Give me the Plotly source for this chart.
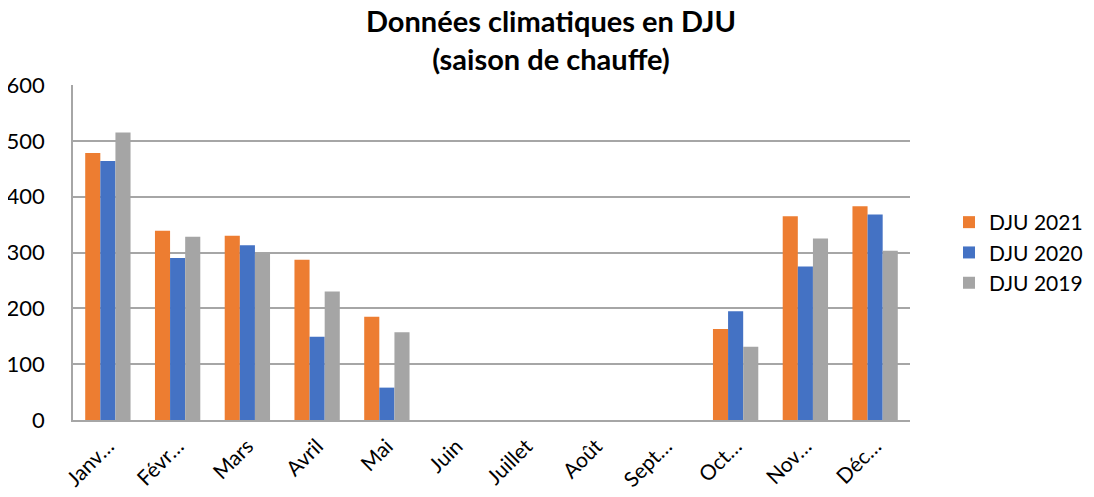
import plotly.graph_objects as go

months = ["Janv…", "Févr…", "Mars", "Avril", "Mai", "Juin", "Juillet", "Août", "Sept…", "Oct…", "Nov…", "Déc…"]
dju_2021 = [478, 339, 330, 287, 185, None, None, None, None, 163, 365, 383]
dju_2020 = [464, 290, 313, 149, 58, None, None, None, None, 195, 275, 368]
dju_2019 = [515, 328, 300, 230, 157, None, None, None, None, 131, 325, 303]

series = [("DJU 2021", dju_2021, "#ED7D31"),
          ("DJU 2020", dju_2020, "#4472C4"),
          ("DJU 2019", dju_2019, "#A5A5A5")]

fig = go.Figure()
for name, vals, col in series:
    fig.add_trace(go.Bar(x=months, y=vals, name=name, marker_color=col, marker_line_width=0))

font = "Lato, 'Open Sans', sans-serif"
W, H = 1086, 489
fig.update_layout(
    width=W, height=H,
    paper_bgcolor="white", plot_bgcolor="white",
    margin=dict(l=65, r=184, t=77, b=77, autoexpand=False),
    barmode="group", bargap=0.35, bargroupgap=0,
    font=dict(family=font, size=21, color="#000000"),
    title=dict(text="<b>Données climatiques en DJU<br>(saison de chauffe)</b>",
               x=0.5, xanchor="center", y=1 - 24 / H, yanchor="middle",
               font=dict(family=font, size=29, color="#000000")),
    legend=dict(xref="container", x=941 / W, xanchor="left", y=0.5, yanchor="middle",
                font=dict(family=font, size=21), itemwidth=30),
    showlegend=True,
)
fig.update_yaxes(range=[0, 600], dtick=100, showgrid=True, gridcolor="#A6A6A6", gridwidth=1.5,
                 showline=True, linecolor="#A6A6A6", linewidth=1.5, zeroline=False,
                 ticks="", ticklabelstandoff=22, tickfont=dict(size=22), automargin=False)
fig.update_xaxes(showline=True, linecolor="#A6A6A6", linewidth=1.5, tickangle=-45,
                 ticks="", tickfont=dict(size=21), ticklabelstandoff=4, automargin=False)

fig.write_html("out.html")
